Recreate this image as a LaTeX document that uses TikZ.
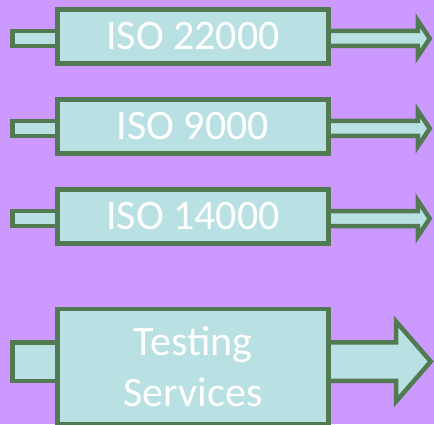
\documentclass[tikz,border=0pt]{standalone}
\usepackage{fontspec}
\setmainfont{Carlito}
\usetikzlibrary{positioning}

\definecolor{bgpurple}{RGB}{204,153,255}
\definecolor{boxfill}{RGB}{185,224,226}
\definecolor{boxline}{RGB}{82,122,82}

\pgfdeclarelayer{back}
\pgfdeclarelayer{links}
\pgfsetlayers{back,links,main}

\tikzset{
  isobox/.style={draw=boxline, fill=boxfill, line width=4.5pt, text=white,
    minimum width=271pt, minimum height=54pt, inner sep=0pt,
    font=\fontsize{42}{51}\selectfont},
  linkpart/.style={draw=boxline, fill=boxfill, line width=4.5pt}
}

\begin{document}
\begin{tikzpicture}[x=1pt,y=1pt]
	\useasboundingbox (0,0) rectangle (434,424);
	\begin{pgfonlayer}{back}
	\fill[bgpurple] (0,0) rectangle (434,424);
	\end{pgfonlayer}

	\node[isobox] (iso1) at (193,387.5) {ISO 22000};
	\node[isobox, below=31.5pt of iso1] (iso2) {ISO 9000};
	\node[isobox, below=31.5pt of iso2] (iso3) {ISO 14000};
	\node[isobox, minimum height=114.75pt, align=center] (testing) at (193,57.4)
	{Testing\\Services};

	% stubs and block arrows sit behind the boxes
	\begin{pgfonlayer}{links}
	\foreach \b in {iso1,iso2,iso3}{
	  \draw[linkpart] ([xshift=-42.75pt,yshift=-9.5pt]\b.west) rectangle ([xshift=10pt,yshift=5.5pt]\b.west);
	  \draw[linkpart] ([xshift=-11pt,yshift=5.5pt]\b.east) -- ++(98,0) -- ++(0,10.5)
	    -- ++(12,-18) -- ++(-12,-18) -- ++(0,10.5) -- ++(-98,0) -- cycle;
	}
	\draw[linkpart] ([xshift=-42.75pt,yshift=-14.15pt]testing.west) rectangle ([xshift=10pt,yshift=24.35pt]testing.west);
	\draw[linkpart] ([xshift=-11pt,yshift=24.35pt]testing.east) -- ++(76.25,0) -- ++(0,20.75)
	  -- ++(34.75,-40) -- ++(-34.75,-40) -- ++(0,20.75) -- ++(-76.25,0) -- cycle;
	\end{pgfonlayer}
\end{tikzpicture}
\end{document}
